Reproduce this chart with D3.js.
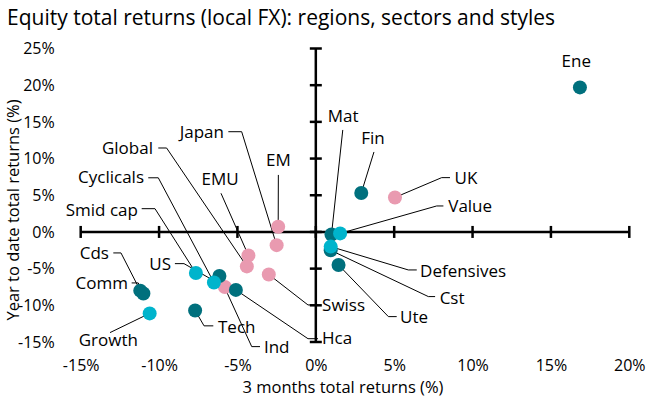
<!DOCTYPE html>
<meta charset="utf-8">
<style>
  body {
    margin: 0;
    overflow: hidden;
    background: white;
  }
  text {
    font-family: "Open Sans", Lato, "Liberation Sans", sans-serif;
    fill: #000;
  }
  .axis-line {
    stroke: black;
    stroke-width: 2.5;
  }
</style>
<body>
</body>
<script src="https://cdn.jsdelivr.net/npm/d3@7"></script>
<script>

// series: name, 3m return, ytd return
var regionNames = ["EM", "Japan", "EMU", "Global", "Swiss", "US", "UK"],
    regionX = [-2.4, -2.5, -4.3, -4.4, -3.0, -5.8, 5.05],
    regionY = [0.7, -1.8, -3.2, -4.7, -5.8, -7.5, 4.7];

var sectorNames = ["Ene", "Fin", "Mat", "Cst", "Ute", "Cds", "Comm", "Tech", "Ind", "Hca"],
    sectorX = [16.85, 2.9, 1.0, 0.95, 1.45, -11.2, -11.0, -7.7, -6.15, -5.1],
    sectorY = [19.7, 5.3, -0.35, -2.5, -4.5, -8.0, -8.4, -10.7, -6.0, -7.9];

var styleNames = ["Value", "Defensives", "Growth", "Smid cap", "Cyclicals"],
    styleX = [1.55, 0.95, -10.6, -7.65, -6.5],
    styleY = [-0.2, -2.0, -11.1, -5.6, -6.9];

var xTicks = [-15, -10, -5, 0, 5, 10, 15, 20],
    yTicks = [-15, -10, -5, 0, 5, 10, 15, 20, 25];

// label placement, in chart units: text point, anchor, leader start, leader elbow
var labelPos = {
  "Ene":        {tx: 16.62, ty: 23.3, a: "middle"},
  "Mat":        {tx: 1.74, ty: 15.8, a: "middle", sx: 1.72, sy: 13.9},
  "Fin":        {tx: 3.65, ty: 12.8, a: "middle", sx: 3.71, sy: 10.9},
  "UK":         {tx: 8.85, ty: 7.4, a: "start", sx: 8.56, sy: 7.4, ex: 8.03, ey: 7.4},
  "Value":      {tx: 8.45, ty: 3.5, a: "start", sx: 8.14, sy: 3.54, ex: 7.71, ey: 3.54},
  "Defensives": {tx: 6.65, ty: -5.3, a: "start", sx: 6.44, sy: -5.18, ex: 5.9, ey: -5.18},
  "Cst":        {tx: 7.9, ty: -9.0, a: "start", sx: 7.61, sy: -8.81, ex: 7.18, ey: -8.81},
  "Ute":        {tx: 5.37, ty: -11.65, a: "start", sx: 5.16, sy: -11.54, ex: 4.63, ey: -11.54},
  "Swiss":      {tx: 0.4, ty: -9.95, a: "start", sx: 0.14, sy: -9.95, ex: -0.5, ey: -9.95},
  "Hca":        {tx: 0.4, ty: -14.4, a: "start", sx: 0.14, sy: -14.55, ex: -0.5, ey: -14.55},
  "Japan":      {tx: -5.86, ty: 13.66, a: "end", sx: -5.58, sy: 13.66, ex: -4.73, ey: 13.66},
  "Global":     {tx: -10.39, ty: 11.49, a: "end", sx: -10.05, sy: 11.44, ex: -9.52, ey: 11.44},
  "EM":         {tx: -2.39, ty: 9.81, a: "middle", sx: -2.39, sy: 7.77},
  "EMU":        {tx: -6.11, ty: 7.22, a: "middle", sx: -6.05, sy: 5.27},
  "Cyclicals":  {tx: -10.96, ty: 7.45, a: "end", sx: -10.69, sy: 7.38, ex: -10.05, ey: 7.38},
  "Smid cap":   {tx: -11.35, ty: 3.0, a: "end", sx: -11.11, sy: 3.17, ex: -10.26, ey: 3.17},
  "Cds":        {tx: -13.2, ty: -2.9, a: "end", sx: -12.92, sy: -2.86, ex: -12.43, ey: -2.86},
  "US":         {tx: -9.24, ty: -4.36, a: "end", sx: -8.99, sy: -4.32, ex: -8.41, ey: -4.32},
  "Comm":       {tx: -11.98, ty: -6.99, a: "end", sx: -11.75, sy: -6.95, ex: -11.33, ey: -6.95},
  "Growth":     {tx: -13.24, ty: -14.71, a: "middle", sx: -13.13, sy: -13.72},
  "Tech":       {tx: -6.24, ty: -12.9, a: "start", sx: -6.54, sy: -12.8, ex: -7.13, ey: -12.8},
  "Ind":        {tx: -3.31, ty: -15.63, a: "start", sx: -3.56, sy: -15.63, ex: -4.09, ey: -15.63}
};

var colors = {
  region: "#e99ab0",
  sector: "#00707d",
  style: "#00b4cc"
};

var width = 647,
    height = 401;

var x = d3.scaleLinear().domain([-15, 20]).range([80.7, 629.3]),
    y = d3.scaleLinear().domain([-15, 25]).range([342, 48.5]);

function rows(names, xs, ys, group) {
  return names.map(function(n, i) {
    return {name: n, x: xs[i], y: ys[i], group: group};
  });
}

var points = [].concat(
  rows(regionNames, regionX, regionY, "region"),
  rows(sectorNames, sectorX, sectorY, "sector"),
  rows(styleNames, styleX, styleY, "style")
);

var svg = d3.select("body").append("svg")
    .attr("width", width)
    .attr("height", height);

svg.append("text")
    .attr("x", 7)
    .attr("y", 25)
    .style("font-size", "21px")
    .text("Equity total returns (local FX): regions, sectors and styles");

// tick labels sit at the plot edges
svg.append("g")
    .attr("transform", "translate(" + (x.range()[0] - 23) + ",0)")
    .call(d3.axisLeft(y).tickValues(yTicks).tickSize(0).tickFormat(d => d + "%"))
    .call(g => g.select(".domain").remove())
    .selectAll("text")
      .style("font-family", "'Open Sans', Lato, sans-serif")
      .style("font-size", "16px");

svg.append("g")
    .attr("transform", "translate(0," + (y.range()[0] + 15) + ")")
    .call(d3.axisBottom(x).tickValues(xTicks).tickSize(0).tickFormat(d => d + "%"))
    .call(g => g.select(".domain").remove())
    .selectAll("text")
      .style("font-family", "'Open Sans', Lato, sans-serif")
      .style("font-size", "16px");

// crossing axes through zero
var axes = svg.append("g");

axes.append("line")
    .attr("class", "axis-line")
    .attr("x1", x.range()[0]).attr("x2", x.range()[1])
    .attr("y1", y(0)).attr("y2", y(0));

axes.append("line")
    .attr("class", "axis-line")
    .attr("x1", x(0)).attr("x2", x(0))
    .attr("y1", y.range()[0]).attr("y2", y.range()[1]);

axes.selectAll(".xt")
    .data(xTicks)
  .enter().append("line")
    .attr("class", "axis-line xt")
    .attr("x1", d => x(d)).attr("x2", d => x(d))
    .attr("y1", y(0) - 6).attr("y2", y(0) + 6);

axes.selectAll(".yt")
    .data(yTicks)
  .enter().append("line")
    .attr("class", "axis-line yt")
    .attr("y1", d => y(d)).attr("y2", d => y(d))
    .attr("x1", x(0) - 6).attr("x2", x(0) + 6);

svg.append("text")
    .attr("x", 343)
    .attr("y", 393)
    .attr("text-anchor", "middle")
    .style("font-size", "16.5px")
    .text("3 months total returns (%)");

svg.append("text")
    .attr("transform", "translate(19,210) rotate(-90)")
    .attr("text-anchor", "middle")
    .style("font-size", "16.5px")
    .text("Year to date total returns (%)");

// leader lines
var leaders = svg.append("g");

points.forEach(function(d) {
  var p = labelPos[d.name];
  if (p.sx === undefined) return;
  var pts = [[x(p.sx), y(p.sy)]];
  if (p.ex !== undefined) pts.push([x(p.ex), y(p.ey)]);
  pts.push([x(d.x), y(d.y)]);
  leaders.append("path")
      .attr("d", d3.line()(pts))
      .style("fill", "none")
      .style("stroke", "black")
      .style("stroke-width", 1);
});

svg.append("g").selectAll("circle")
    .data(points)
  .enter().append("circle")
    .attr("cx", d => x(d.x))
    .attr("cy", d => y(d.y))
    .attr("r", 7)
    .style("fill", d => colors[d.group]);

svg.append("g").selectAll("text")
    .data(points)
  .enter().append("text")
    .attr("x", d => x(labelPos[d.name].tx))
    .attr("y", d => y(labelPos[d.name].ty))
    .attr("dy", "0.35em")
    .attr("text-anchor", d => labelPos[d.name].a)
    .style("font-size", "17px")
    .text(d => d.name);

</script>
